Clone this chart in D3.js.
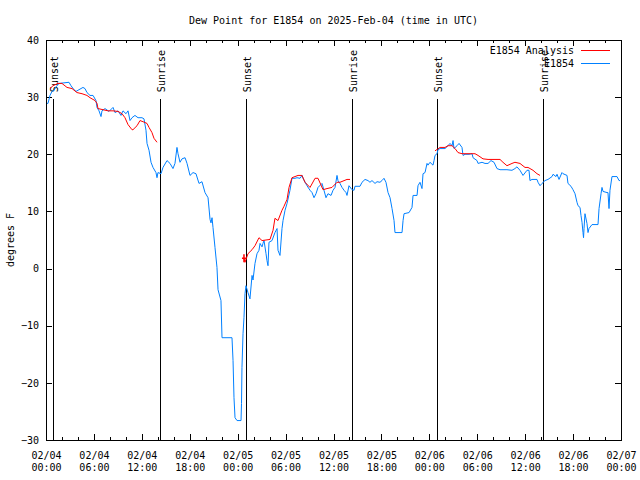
<!DOCTYPE html>
<html>
<head>
<meta charset="utf-8">
<script src="https://cdn.jsdelivr.net/npm/d3@7/dist/d3.min.js"></script>
<style>
  html, body { margin: 0; padding: 0; background: #fff; }
  svg { display: block; }
  text { font-family: "DejaVu Sans Mono", "Liberation Mono", monospace; font-size: 10px; fill: #000; }
</style>
</head>
<body>
<svg id="chart" width="640" height="480"></svg>
<script>
// ---------------- DATA ----------------
const titleText = "Dew Point for E1854 on 2025-Feb-04 (time in UTC)";
const yLabelText = "degrees F";
const seriesNames = ["E1854 Analysis", "E1854"];
const yTicks = [-30, -20, -10, 0, 10, 20, 30, 40];

// hours since 2025-02-04 00:00 UTC
const obsHours = [0.13,0.25,0.50,0.75,1.00,1.25,1.63,2.25,2.88,3.13,3.51,3.76,4.13,4.63,4.88,5.13,5.51,5.89,6.26,6.39,6.64,6.89,7.01,7.39,7.89,8.39,8.64,9.02,9.39,9.64,10.02,10.27,10.52,10.77,11.14,11.52,12.02,12.27,12.52,12.65,12.90,13.15,13.40,13.77,13.90,14.02,14.40,14.65,15.15,15.53,15.90,16.15,16.40,16.53,16.78,17.03,17.41,17.66,18.03,18.41,18.78,19.16,19.53,19.91,20.29,20.54,20.66,20.79,20.91,21.16,21.41,21.54,21.91,22.04,23.29,23.42,23.54,23.67,23.92,24.42,24.48,24.54,24.67,24.79,24.92,25.04,25.29,25.54,25.80,25.92,26.17,26.42,26.67,26.80,27.05,27.17,27.30,27.55,27.67,27.80,27.92,28.30,28.67,28.93,29.05,29.30,29.55,29.68,29.93,30.18,30.55,30.80,31.18,31.43,31.81,32.06,32.18,32.68,33.06,33.31,33.56,33.81,34.06,34.56,34.81,35.06,35.31,35.69,35.94,36.19,36.44,36.56,36.81,37.07,37.32,37.57,37.69,37.94,38.32,38.57,38.69,39.32,39.57,39.95,40.32,40.57,40.82,41.20,41.45,41.82,42.07,42.32,42.57,42.83,43.08,43.33,43.58,43.70,44.58,44.71,44.83,45.46,45.83,45.96,46.46,46.58,46.83,47.08,47.21,47.46,47.71,47.83,48.08,48.46,48.59,48.71,48.96,49.09,49.34,49.96,50.34,50.59,50.84,50.97,51.09,51.47,51.72,52.09,52.22,52.47,52.97,53.35,53.47,53.97,54.10,54.60,54.97,55.35,55.72,56.10,56.47,56.85,57.72,58.35,58.72,58.97,59.35,59.73,60.23,60.48,60.60,60.85,61.48,61.61,61.86,62.11,62.48,62.86,63.36,63.49,63.86,63.99,64.24,64.61,64.74,65.24,65.36,65.74,65.99,66.24,66.49,66.62,66.87,66.99,67.12,67.24,67.31,67.37,67.49,67.74,67.87,67.99,68.37,69.12,69.25,69.50,69.62,69.75,70.25,70.37,70.50,70.62,70.87,71.50,71.75,71.88];
const obsValues = [28.9,28.9,30.3,31.0,31.2,31.8,32.4,32.5,32.6,32.0,31.3,31.0,31.3,31.7,31.5,30.8,30.3,30.3,29.4,28.2,27.6,26.6,27.6,28.0,27.5,28.2,27.3,27.6,26.8,27.6,27.1,27.6,25.9,26.4,26.8,26.4,26.4,26.2,24.2,21.9,20.7,18.6,17.7,16.8,15.9,16.8,16.6,17.7,18.9,18.4,17.5,18.4,21.2,20.1,18.6,19.2,19.4,18.4,16.3,16.8,16.6,14.9,15.2,13.3,12.4,8.6,8.0,8.9,7.2,3.7,0.2,-3.7,-5.6,-12.1,-12.1,-16.1,-22.6,-26.1,-26.6,-26.6,-23.6,-17.3,-11.4,-8.6,-4.4,-3.0,-4.2,-5.3,-1.2,-2.0,0.9,2.6,3.2,4.4,3.8,4.4,4.9,2.6,1.4,0.5,4.6,4.9,6.3,7.0,3.2,2.3,7.0,8.4,10.2,11.4,13.7,15.8,15.8,15.9,15.8,16.3,15.8,14.5,13.7,13.3,12.4,13.1,14.2,14.9,13.7,12.4,13.1,12.8,13.7,14.2,16.3,15.4,14.9,14.2,13.7,13.3,12.8,14.5,13.8,13.7,14.4,14.4,15.1,15.6,15.4,15.1,15.4,14.9,15.2,15.1,15.4,15.8,15.1,13.3,12.4,10.5,8.4,6.3,6.3,8.4,9.6,9.8,10.7,12.8,12.8,14.5,15.1,14.0,16.6,16.8,18.4,18.1,18.6,18.1,18.9,19.8,20.1,20.8,21.0,21.0,21.5,21.9,21.5,22.4,21.0,21.5,21.9,21.2,19.8,20.0,20.0,20.1,19.4,18.9,18.4,18.6,18.4,18.4,18.9,18.6,17.5,17.3,17.3,17.2,17.5,17.8,17.2,16.3,17.2,17.2,15.4,15.6,15.6,15.1,14.5,14.9,15.4,15.6,16.1,16.5,16.1,16.5,15.6,16.8,16.6,16.3,14.9,14.4,13.8,13.1,11.6,11.0,10.7,9.3,8.1,6.3,5.4,7.0,9.6,7.9,6.3,7.0,7.7,7.7,10.5,13.1,14.2,13.5,13.3,13.3,10.5,13.7,16.1,16.1,15.4,15.4];

// analysis series: null marks a gap between segments
const anaHours = [0.50,0.88,1.50,2.00,2.63,3.26,3.88,4.51,5.13,5.51,6.14,6.39,6.51,7.14,7.76,8.39,9.02,9.52,9.89,10.27,10.77,10.89,11.40,11.77,12.15,12.65,12.90,13.27,13.52,13.90,
  18.0,
  24.79,24.92,25.29,25.80,26.17,26.67,27.05,28.05,28.43,28.67,29.05,29.55,29.80,30.18,30.43,30.80,31.56,32.06,32.43,33.06,33.69,34.06,34.69,35.19,35.81,36.44,36.81,37.69,38.07,
  43.0,
  48.71,49.34,49.96,50.34,50.84,51.22,51.59,52.09,53.10,53.72,54.10,54.72,55.35,56.85,57.22,57.72,58.35,58.72,59.35,59.98,60.36,60.98,61.48,61.86];
const anaValues = [31.5,32.0,32.4,32.4,31.7,31.5,30.8,30.6,30.3,29.9,29.4,28.9,28.0,27.8,27.6,27.6,27.5,27.1,26.4,25.2,24.3,24.3,25.0,25.9,25.7,25.4,24.7,23.8,22.8,22.1,
  null,
  1.8,1.1,2.6,3.3,4.0,5.4,4.9,5.1,6.7,8.8,8.4,10.2,10.9,12.1,14.2,15.9,16.3,16.3,15.1,14.2,15.8,15.8,13.8,14.0,14.2,15.1,15.1,15.6,15.6,
  null,
  20.6,21.2,21.2,21.5,21.5,21.0,20.3,20.1,20.1,20.1,19.8,19.2,19.1,19.1,18.6,18.0,18.4,18.6,18.4,17.7,17.7,17.2,16.6,16.3];

const sunHours = [0.88, 14.27, 25.04, 38.3, 48.96, 62.2];
const sunLabels = ["Sunset", "Sunrise", "Sunset", "Sunrise", "Sunset", "Sunrise"];

const colors = { analysis: "#ff0000", obs: "#0080ff" };

// ---------------- CHART ----------------
const svg = d3.select("#chart");
const W = 640, H = 480;
const m = { left: 46, right: 19, top: 40, bottom: 40 };
const t0 = Date.UTC(2025, 1, 4, 0, 0, 0);
const toDate = h => new Date(t0 + h * 3600e3);

const x = d3.scaleUtc().domain([toDate(0), toDate(72)]).range([m.left, W - m.right]);
const y = d3.scaleLinear().domain([-30, 40]).range([H - m.bottom, m.top]);

svg.append("rect").attr("width", W).attr("height", H).attr("fill", "#fff");

// title
svg.append("text").attr("x", (m.left + W - m.right) / 2).attr("y", 24)
  .attr("text-anchor", "middle").text(titleText);

// y label
svg.append("text").attr("transform", `translate(14,${(m.top + H - m.bottom) / 2}) rotate(-90)`)
  .attr("text-anchor", "middle").text(yLabelText);

function styleAxis(g) {
  g.select(".domain").remove();
  g.selectAll("line").attr("stroke", "#000").attr("shape-rendering", "crispEdges");
  g.selectAll("text").attr("fill", "#000").style("font-family", '"DejaVu Sans Mono", monospace').style("font-size", "10px");
}

// minor x ticks (2h)
svg.append("g").attr("transform", `translate(0,${H - m.bottom})`)
  .call(d3.axisBottom(x).ticks(d3.utcHour.every(2)).tickSize(-3).tickFormat(""))
  .call(styleAxis);
svg.append("g").attr("transform", `translate(0,${m.top})`)
  .call(d3.axisTop(x).ticks(d3.utcHour.every(2)).tickSize(-3).tickFormat(""))
  .call(styleAxis);

// major x ticks (6h)
const fmtD = d3.utcFormat("%m/%d"), fmtT = d3.utcFormat("%H:%M");
const xb = svg.append("g").attr("transform", `translate(0,${H - m.bottom})`)
  .call(d3.axisBottom(x).ticks(d3.utcHour.every(6)).tickSize(-6).tickFormat(fmtD))
  .call(styleAxis);
xb.selectAll(".tick text").each(function (d) {
  const t = d3.select(this);
  t.text(null).attr("dy", null).attr("y", null);
  t.append("tspan").attr("x", 0).attr("y", 19).text(fmtD(d));
  t.append("tspan").attr("x", 0).attr("y", 31).text(fmtT(d));
});
svg.append("g").attr("transform", `translate(0,${m.top})`)
  .call(d3.axisTop(x).ticks(d3.utcHour.every(6)).tickSize(-6).tickFormat(""))
  .call(styleAxis);

// y axes
svg.append("g").attr("transform", `translate(${m.left},0)`)
  .call(d3.axisLeft(y).tickValues(yTicks).tickSize(-6).tickPadding(7).tickFormat(d3.format("d")))
  .call(styleAxis);
svg.append("g").attr("transform", `translate(${W - m.right},0)`)
  .call(d3.axisRight(y).tickValues(yTicks).tickSize(-6).tickFormat(""))
  .call(styleAxis);

// frame
svg.append("rect").attr("x", m.left + 0.5).attr("y", m.top + 0.5)
  .attr("width", W - m.right - m.left).attr("height", H - m.bottom - m.top)
  .attr("fill", "none").attr("stroke", "#000").attr("shape-rendering", "crispEdges");

// sunrise / sunset lines
const sun = svg.append("g");
sunHours.forEach((h, i) => {
  const xx = Math.round(x(toDate(h))) + 0.5;
  sun.append("line").attr("x1", xx).attr("x2", xx).attr("y1", y(30) + 2).attr("y2", y(-30))
    .attr("stroke", "#000").attr("stroke-width", 1).attr("shape-rendering", "crispEdges");
  sun.append("text").attr("transform", `translate(${xx + 4},${y(30) - 5}) rotate(-90)`)
    .attr("text-anchor", "start").text(sunLabels[i]);
});

// lines
const obsData = obsHours.map((h, i) => ({ t: toDate(h), v: obsValues[i] }));
const anaData = anaHours.map((h, i) => ({ t: toDate(h), v: anaValues[i] }));
const line = d3.line().defined(d => d.v !== null).x(d => x(d.t)).y(d => y(d.v));

svg.append("path").datum(obsData).attr("d", line)
  .attr("fill", "none").attr("stroke", colors.obs).attr("stroke-width", 1);
svg.append("path").datum(anaData).attr("d", line)
  .attr("fill", "none").attr("stroke", colors.analysis).attr("stroke-width", 1);

// small cross marker at the start of the second analysis segment
const segStart = anaData.find((d, i) => i > 0 && anaData[i - 1].v === null);
if (segStart) {
  const cx = x(segStart.t), cy = y(segStart.v);
  svg.append("path").attr("d", `M${cx - 2},${cy}H${cx + 2}M${cx},${cy - 4}V${cy + 4}`)
    .attr("stroke", colors.analysis).attr("stroke-width", 1.5).attr("fill", "none");
}

// legend
const lg = svg.append("g");
[[seriesNames[0], colors.analysis, 50], [seriesNames[1], colors.obs, 63]].forEach(([name, c, yy]) => {
  lg.append("text").attr("x", 574).attr("y", yy + 4).attr("text-anchor", "end").text(name);
  lg.append("line").attr("x1", 581).attr("x2", 610).attr("y1", yy + 0.5).attr("y2", yy + 0.5)
    .attr("stroke", c).attr("stroke-width", 1);
});
</script>
</body>
</html>
